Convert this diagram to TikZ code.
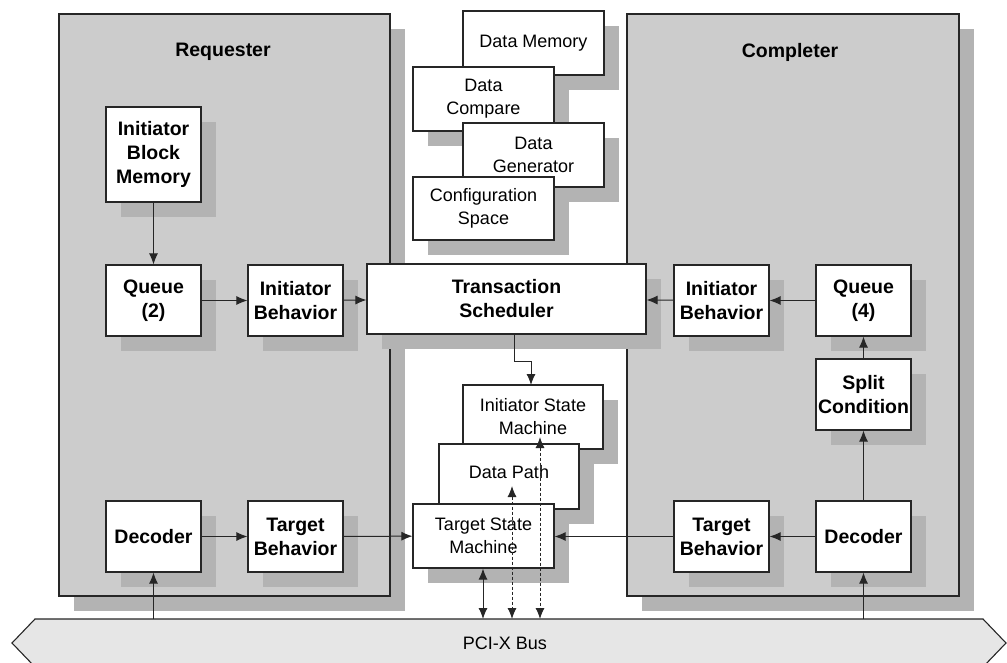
\documentclass[tikz,border=0pt]{standalone}
\usepackage{fontspec}
\setmainfont{Liberation Sans}
\usetikzlibrary{arrows.meta,shadows}

\definecolor{panelgray}{HTML}{CCCCCC}
\definecolor{shadegray}{HTML}{B3B3B3}
\definecolor{busgray}{HTML}{E6E6E6}
\definecolor{edge}{HTML}{262626}

\tikzset{
  shade15/.style={drop shadow={shadow xshift=15pt,shadow yshift=-15pt,fill=shadegray,draw=none,opacity=1}},
  panel/.style={draw=edge,line width=1.1pt,fill=panelgray,inner sep=0pt,shade15},
  blockbox/.style={draw=edge,line width=1.1pt,fill=white,inner sep=0pt,align=center,
    font=\fontsize{19.5}{24}\selectfont\bfseries,shade15},
  stackbox/.style={draw=edge,line width=1.1pt,fill=white,inner sep=0pt,align=center,
    font=\fontsize{18}{23}\selectfont,shade15},
  title/.style={font=\fontsize{19.5}{24}\selectfont\bfseries},
  tip/.style={Latex[length=11pt,width=9pt]},
  link/.style={draw=edge,line width=1pt,-{Latex[length=11pt,width=9pt]}},
  duplex/.style={draw=edge,line width=1pt,{Latex[length=11pt,width=9pt]}-{Latex[length=11pt,width=9pt]}},
  dlink/.style={duplex,dash pattern=on 3pt off 2pt},
}

\begin{document}
\begin{tikzpicture}[x=1pt,y=-1pt]
\useasboundingbox (0,0) rectangle (1007,663);
\clip (0,0) rectangle (1007,663);

% the two agents
\node[panel,minimum width=331pt,minimum height=582pt] (req) at (224.5,305) {};
\node[title] (reqt) at (223,52) {Requester};
\node[panel,minimum width=332pt,minimum height=582pt] (cpl) at (793,305) {};
\node[title] (cplt) at (790,52) {Completer};

% requester blocks
\node[blockbox,minimum width=95pt,minimum height=95pt] (ibm) at (153.5,154.5) {Initiator\\Block\\Memory};
\node[blockbox,minimum width=95pt,minimum height=71pt] (q2) at (153.5,300.5) {Queue\\(2)};
\node[blockbox,minimum width=95pt,minimum height=71pt] (ib1) at (295.5,300.5) {Initiator\\Behavior};
\node[blockbox,minimum width=95pt,minimum height=71pt] (dec1) at (153.5,536.5) {Decoder};
\node[blockbox,minimum width=95pt,minimum height=71pt] (tb1) at (295.5,536.5) {Target\\Behavior};

% completer blocks
\node[blockbox,minimum width=95pt,minimum height=71pt] (ib2) at (721.5,300.5) {Initiator\\Behavior};
\node[blockbox,minimum width=95pt,minimum height=71pt] (q4) at (863.5,300.5) {Queue\\(4)};
\node[blockbox,minimum width=95pt,minimum height=71pt] (split) at (863.5,394.5) {Split\\Condition};
\node[blockbox,minimum width=95pt,minimum height=71pt] (tb2) at (721.5,536.5) {Target\\Behavior};
\node[blockbox,minimum width=95pt,minimum height=71pt] (dec2) at (863.5,536.5) {Decoder};

% shared data blocks
\node[stackbox,minimum width=141pt,minimum height=64pt] (dm) at (533.5,43) {Data Memory};
\node[stackbox,minimum width=141pt,minimum height=64pt] (dc) at (483.5,99) {Data\\Compare};
\node[stackbox,minimum width=141pt,minimum height=64pt] (dg) at (533.5,155) {Data\\Generator};
\node[stackbox,minimum width=141pt,minimum height=63pt] (cs) at (483.5,208.5) {Configuration\\Space};

% scheduler
\node[blockbox,minimum width=279pt,minimum height=70pt] (ts) at (506.5,299) {Transaction\\Scheduler};

% bus interface
\node[stackbox,minimum width=140pt,minimum height=64pt] (ism) at (533,417) {Initiator State\\Machine};
\node[stackbox,minimum width=140pt,minimum height=65pt] (dp) at (509,476.5) {};
\node[font=\fontsize{18}{23}\selectfont] (dpt) at (509,472) {Data Path};
\node[stackbox,minimum width=141pt,minimum height=64pt] (tsm) at (483.5,536) {Target State\\Machine};

% PCI-X bus
\draw[draw=edge,line width=1.1pt,fill=busgray]
  (12,643) -- (35,619) -- (983,619) -- (1006,643) -- (983,667) -- (35,667) -- cycle;
\coordinate (bustop) at (505,619);
\node[font=\fontsize{18}{22}\selectfont] (bus) at (505,643) {PCI-X Bus};

% requester paths
\draw[link] (ibm) -- (q2);
\draw[link] (q2) -- (ib1);
\draw[link] (ib1) -- (ts);
\draw[link] (dec1) -- (tb1);
\draw[link] (tb1) -- (tsm);
\draw[link] (dec1.south |- bustop) -- (dec1);

% completer paths
\draw[link] (q4) -- (ib2);
\draw[link] (ib2) -- (ts);
\draw[link] (split) -- (q4);
\draw[link] (dec2) -- (split);
\draw[link] (dec2) -- (tb2);
\draw[link] (tb2.west) -- (tsm.east |- tb2.west);
\draw[link] (dec2.south |- bustop) -- (dec2);

% scheduler to initiator state machine
\coordinate (tsout) at (514,334);
\coordinate (ismin) at (531,385);
\draw[link] (tsout) -- (514,361) -| (ismin);

% bus connections
\coordinate (tsmbus) at (483,619);
\coordinate (dpbus) at (512,619);
\coordinate (ismbus) at (540,619);
\coordinate (dpin) at (512,486);
\coordinate (ismtip) at (540,437);
\draw[duplex] (tsmbus |- tsm.south) -- (tsmbus);
\draw[dlink] (dpin) -- (dpbus);
\draw[dlink] (ismtip) -- (ismbus);
\end{tikzpicture}
\end{document}
